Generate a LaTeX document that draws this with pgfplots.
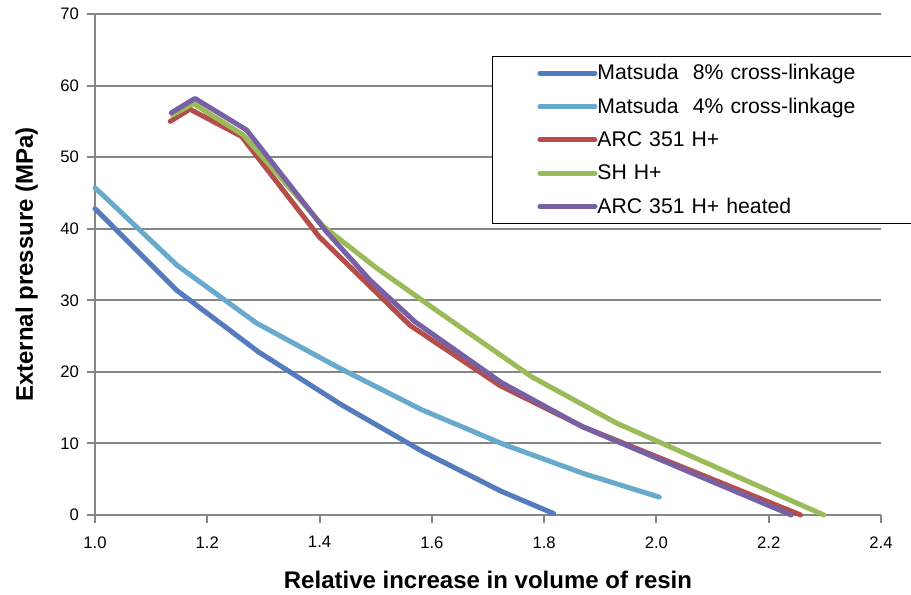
\documentclass[border=0pt]{standalone}
\usepackage{pgfplots}
\pgfplotsset{compat=1.18}
\usepackage{fontspec}
\setmainfont{Liberation Sans}
\definecolor{c8}{RGB}{84,123,190}
\definecolor{c4}{RGB}{104,170,204}
\definecolor{cred}{RGB}{180,78,75}
\definecolor{cgreen}{RGB}{155,187,89}
\definecolor{cpurple}{RGB}{120,96,164}
\definecolor{gridgray}{RGB}{134,134,134}
\begin{document}
\begin{tikzpicture}
\path[use as bounding box] (-71.25pt,-60pt) rectangle (612pt,386.25pt);
\begin{axis}[
  at={(0pt,0pt)}, anchor=south west,
  scale only axis, width=589.5pt, height=375.75pt,
  xmin=1, xmax=2.4, ymin=0, ymax=70,
  xtick={1,1.2,1.4,1.6,1.8,2.0,2.2,2.4},
  ytick={0,10,20,30,40,50,60,70},
  axis x line*=bottom, axis y line*=left,
  axis line style={gridgray, line width=1.5pt},
  ymajorgrids, major grid style={gridgray, line width=1.5pt},
  tick style={gridgray, line width=1.5pt},
  tick align=outside, major tick length=6pt,
  /pgf/number format/assume math mode=true,
  tick label style={font=\fontsize{12.5}{14}\selectfont, black},
  xticklabel style={/pgf/number format/fixed, /pgf/number format/fixed zerofill, /pgf/number format/precision=1, yshift=-6.5pt},
  yticklabel style={xshift=-2.5pt},
  xlabel={Relative increase in volume of resin},
  ylabel={External pressure (MPa)},
  xlabel style={font=\bfseries\fontsize{18}{20}\selectfont, at={(axis description cs:0.5,0)}, anchor=center, yshift=-48.75pt},
  ylabel style={font=\bfseries\fontsize{18}{20}\selectfont, at={(axis description cs:-0.087,0.5)}, anchor=center, rotate=0},
  clip=false,
  legend cell align=left,
  legend image code/.code={\draw[#1, line cap=round] (0pt,0pt) -- (41.25pt,0pt); \path (-33.75pt,0pt) (39pt,0pt);},
  legend style={at={(0.505,0.916)}, anchor=north west, draw=black, line width=0.75pt, fill=white,
    inner xsep=0pt, inner ysep=0pt, row sep=0pt, font=\fontsize{15.9}{18}\selectfont,
    nodes={inner sep=0pt, text width=238.5pt, minimum height=25pt}},
  every axis plot/.append style={line width=3.75pt, line join=round, line cap=round},
]
\addplot[c8] coordinates {(1.0,42.8) (1.1455,31.4) (1.291,22.8) (1.439,15.4) (1.585,8.8) (1.724,3.3) (1.817,0.2)};
\addlegendentry{Matsuda\ \ 8\% cross-linkage}
\addplot[c4] coordinates {(1.0,45.7) (1.014,44.7) (1.146,34.9) (1.288,26.8) (1.436,20.5) (1.582,14.7) (1.730,9.8) (1.870,5.8) (2.005,2.5)};
\addlegendentry{Matsuda\ \ 4\% cross-linkage}
\addplot[cred] coordinates {(1.134,55.0) (1.169,56.7) (1.261,52.9) (1.399,38.9) (1.484,32.4) (1.561,26.5) (1.721,18.1) (1.870,12.3) (2.257,0)};
\addlegendentry{ARC 351 H+}
\addplot[cgreen] coordinates {(1.138,55.9) (1.175,57.5) (1.264,53.1) (1.407,40.3) (1.50,34.6) (1.597,29.2) (1.778,19.3) (1.93,12.8) (2.298,0)};
\addlegendentry{SH H+}
\addplot[cpurple] coordinates {(1.136,56.2) (1.178,58.2) (1.270,53.8) (1.412,39.6) (1.49,32.8) (1.570,27.0) (1.724,18.5) (1.869,12.3) (2.240,0)};
\addlegendentry{ARC 351 H+ heated}
\end{axis}
\end{tikzpicture}
\end{document}
